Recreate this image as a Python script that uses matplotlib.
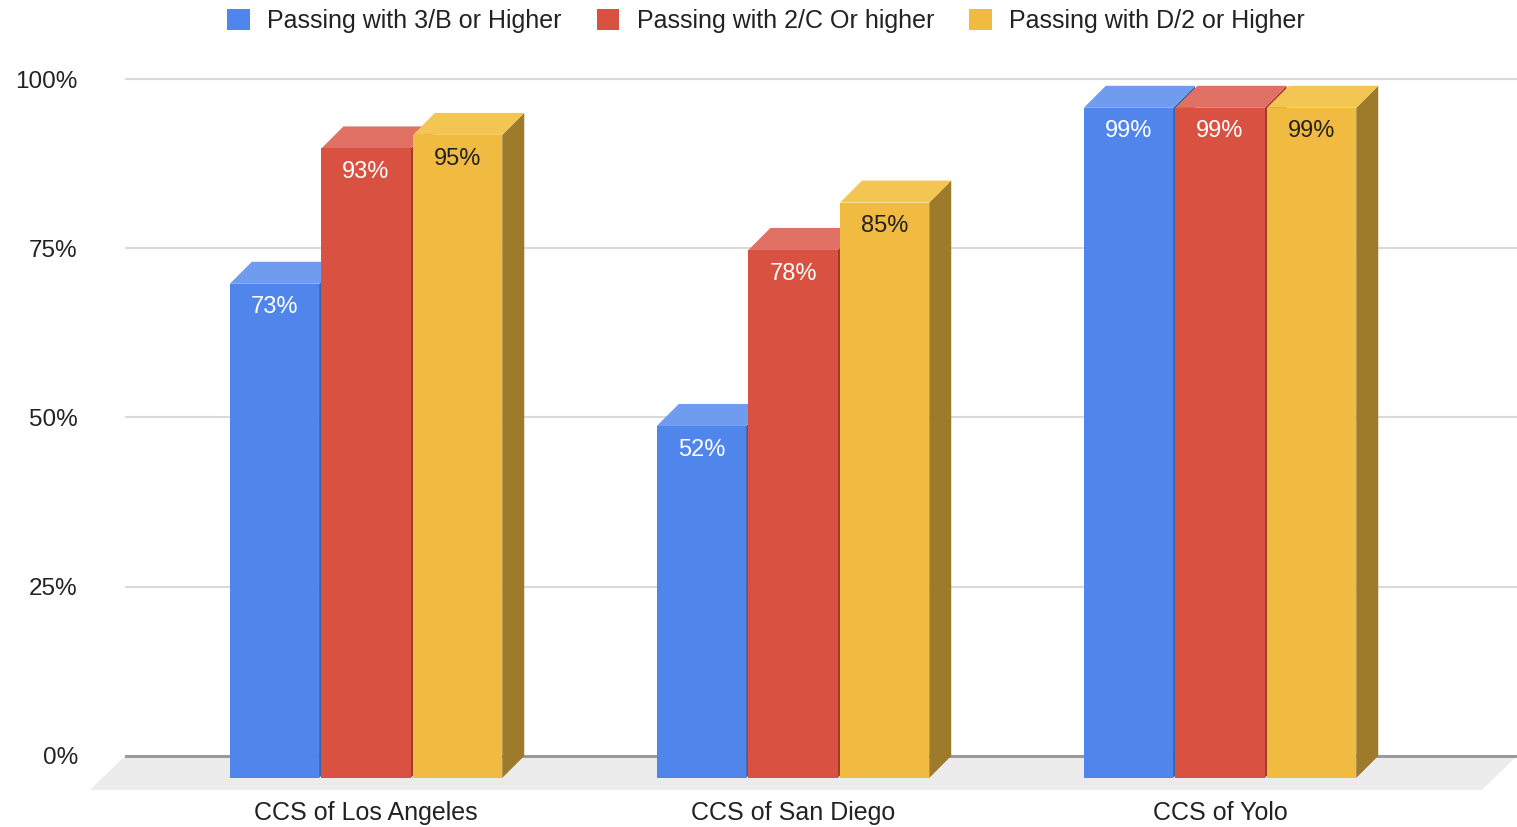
import matplotlib.pyplot as plt
from matplotlib.patches import Polygon, Patch

# data
schools = ["CCS of Los Angeles", "CCS of San Diego", "CCS of Yolo"]
series = ["Passing with 3/B or Higher", "Passing with 2/C Or higher", "Passing with D/2 or Higher"]
pass_3b = [73, 52, 99]
pass_2c = [93, 78, 99]
pass_d2 = [95, 85, 99]
yticks = [0, 25, 50, 75, 100]

front = ["#5086EC", "#D95140", "#F1BA40"]
top = ["#6F9CEF", "#E07064", "#F3C653"]
side = ["#3A62AE", "#A33A2E", "#9E7B2A"]
label_colors = ["white", "white", "#222222"]

plt.rcParams["font.family"] = ["Liberation Sans", "DejaVu Sans"]

fig = plt.figure(figsize=(15.17, 8.27), dpi=100)
ax = fig.add_axes([125 / 1517, 0.0368, 1 - 125 / 1517, 0.884])
ax.set_xlim(-0.616, 2.644)
ax.set_ylim(-6, 102)

dx, dy = 0.0515, 3.25   # depth of the 3d effect
step, w = 0.2145, 0.209

# floor
floor = Polygon([(-0.616, 0), (2.644, 0), (2.562, -5), (-0.698, -5)],
                closed=True, facecolor="#ececec", edgecolor="none", zorder=0.3,
                clip_on=False)
ax.add_patch(floor)

ax.set_yticks(yticks)
ax.set_yticklabels([f"{t}%" for t in yticks])
ax.set_axisbelow(True)
ax.yaxis.grid(True, color="#dadada", linewidth=1.5)
ax.get_ygridlines()[0].set_color("#9a9a9a")
ax.get_ygridlines()[0].set_linewidth(2.2)
for s in ax.spines.values():
    s.set_visible(False)
ax.tick_params(axis="y", length=0, pad=34, labelsize=17.5, labelcolor="#222222")
ax.tick_params(axis="x", length=0, pad=3, labelsize=18, labelcolor="#222222")
ax.set_xticks([i - dx for i in range(len(schools))])
ax.set_xticklabels(schools)

values = [pass_3b, pass_2c, pass_d2]
z = 3
for i in range(len(schools)):
    for k in range(3):
        v = values[k][i]
        xl = i - dx + (k - 1) * step - w / 2
        xr = xl + w
        yt = v - dy
        ax.add_patch(Polygon([(xr, -dy), (xr + dx, 0), (xr + dx, v), (xr, yt)],
                             closed=True, facecolor=side[k], edgecolor="none", zorder=z))
        ax.add_patch(Polygon([(xl, yt), (xr, yt), (xr + dx, v), (xl + dx, v)],
                             closed=True, facecolor=top[k], edgecolor="none", zorder=z))
        ax.bar(xl + w / 2, v, bottom=-dy, width=w, color=front[k], zorder=z)
        ax.text(xl + w / 2, yt - 3.5, f"{v}%", ha="center", va="center",
                color=label_colors[k], fontsize=17, zorder=50)
        z += 1

handles = [Patch(facecolor=c, edgecolor="none") for c in front]
fig.legend(handles, series, loc="center", bbox_to_anchor=(766 / 1517, 1 - 21 / 827),
           ncol=3, frameon=False, fontsize=18, handlelength=0.9, handleheight=0.9,
           handletextpad=0.7, columnspacing=1.4, labelcolor="#222222")

fig.savefig("out.png", dpi=100)
